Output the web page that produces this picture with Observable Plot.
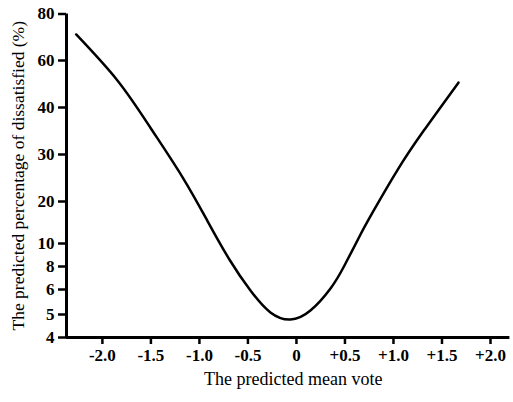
<!DOCTYPE html>
<html><head><meta charset="utf-8">
<script src="https://cdn.jsdelivr.net/npm/d3@7"></script>
<script src="https://cdn.jsdelivr.net/npm/@observablehq/plot@0.6"></script>
<style>body{margin:0;background:#fff}</style>
</head><body><div id="chart"></div>
<script>
const pmv = [-2.27, -1.845, -1.505, -1.175, -0.918, -0.691, -0.474, -0.268, -0.062, 0.144, 0.351, 0.495, 0.66, 0.794, 1.041, 1.309, 1.67];
const ppd = [71.2, 51.5, 35.7, 25.2, 15.4, 8.61, 5.96, 5.08, 4.78, 5.16, 6.09, 8.09, 12.14, 17.76, 26.68, 34.98, 50.6];
const xTicks = [-2.0, -1.5, -1.0, -0.5, 0, 0.5, 1.0, 1.5, 2.0];
const xTickLabels = ["-2.0", "-1.5", "-1.0", "-0.5", "0", "+0.5", "+1.0", "+1.5", "+2.0"];
const yTicks = [4, 5, 6, 8, 10, 20, 30, 40, 60, 80];
const xTitle = "The predicted mean vote";
const yTitle = "The predicted percentage of dissatisfied (%)";

const data = pmv.map((v, i) => ({pmv: v, ppd: ppd[i]}));
const xMin = -2.37, xMax = 2.2;
const font = "'Liberation Serif', 'DejaVu Serif', serif";

const chart = Plot.plot({
  width: 513,
  height: 402,
  marginLeft: 66,
  marginRight: 3.6,
  marginTop: 13.5,
  marginBottom: 65,
  style: {fontFamily: font, color: "#000", background: "#fff"},
  x: {domain: [xMin, xMax]},
  y: {type: "linear", domain: yTicks, range: [337, 314, 289, 266, 243, 201, 154, 107, 60, 13.5]},
  marks: [
    Plot.axisX({ticks: xTicks, tickFormat: d => xTickLabels[xTicks.indexOf(d)], tickSize: 7, tickPadding: 4, fontSize: 17, fontWeight: "bold", strokeWidth: 2.5, label: null}),
    Plot.axisY({ticks: yTicks, tickFormat: d => String(d), tickSize: 8, tickPadding: 4, fontSize: 17, fontWeight: "bold", strokeWidth: 2.5, label: null}),
    Plot.ruleY([4], {x1: xMin, x2: xMax, strokeWidth: 3, stroke: "#000"}),
    Plot.ruleX([xMin], {y1: 4, y2: 80, strokeWidth: 3, stroke: "#000"}),
    Plot.line(data, {x: "pmv", y: "ppd", curve: "natural", stroke: "#000", strokeWidth: 2.5}),
    Plot.text([xTitle], {frameAnchor: "bottom", dy: 47, dx: 5, fontSize: 18, fill: "#000"}),
    Plot.text([yTitle], {frameAnchor: "left", textAnchor: "middle", rotate: -90, dx: -48, fontSize: 17.5, fill: "#000"})
  ]
});
document.getElementById("chart").appendChild(chart);
</script>
</body></html>
